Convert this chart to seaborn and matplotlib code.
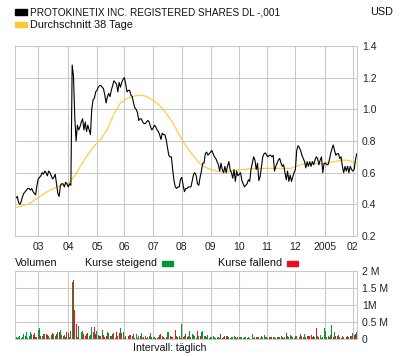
import matplotlib
matplotlib.use("Agg")
import matplotlib.pyplot as plt
from matplotlib.patches import Rectangle
import pandas as pd
import seaborn as sns

# daily closing prices (USD), Feb 2004 - Feb 2005
price = [
    0.44, 0.45, 0.41, 0.40, 0.42, 0.45, 0.47, 0.48, 0.49, 0.50,
    0.50, 0.49, 0.50, 0.48, 0.47, 0.46, 0.52, 0.56, 0.57, 0.58,
    0.60, 0.59, 0.61, 0.60, 0.58, 0.61, 0.60, 0.58, 0.56, 0.57,
    0.59, 0.53, 0.47, 0.45, 0.52, 0.53, 0.53, 0.51, 0.54, 0.53,
    0.51, 0.53, 0.52, 1.28, 1.21, 0.95, 0.80, 0.90, 0.87, 0.89,
    0.92, 0.94, 0.87, 0.92, 0.86, 0.90, 0.87, 0.84, 1.00, 1.06,
    1.07, 1.11, 1.12, 1.14, 1.15, 1.15, 1.14, 1.13, 1.09, 1.04,
    1.08, 1.10, 1.08, 1.12, 1.15, 1.18, 1.17, 1.16, 1.11, 1.17,
    1.14, 1.17, 1.19, 1.20, 1.16, 1.11, 1.12, 1.12, 1.09, 1.08,
    1.04, 1.01, 1.00, 0.98, 0.93, 0.94, 0.94, 0.92, 0.91, 0.91,
    0.92, 0.93, 0.92, 0.89, 0.87, 0.88, 0.90, 0.89, 0.87, 0.86,
    0.84, 0.81, 0.85, 0.84, 0.84, 0.81, 0.76, 0.71, 0.70, 0.70,
    0.62, 0.55, 0.51, 0.50, 0.51, 0.51, 0.56, 0.57, 0.52, 0.48,
    0.50, 0.50, 0.51, 0.51, 0.51, 0.55, 0.59, 0.60, 0.58, 0.53,
    0.52, 0.57, 0.61, 0.66, 0.66, 0.72, 0.73, 0.71, 0.72, 0.73,
    0.74, 0.72, 0.70, 0.69, 0.67, 0.65, 0.61, 0.66, 0.62, 0.60,
    0.64, 0.60, 0.64, 0.67, 0.62, 0.60, 0.565, 0.62, 0.545, 0.61,
    0.58, 0.59, 0.60, 0.55, 0.53, 0.51, 0.52, 0.53, 0.555, 0.545,
    0.62, 0.66, 0.70, 0.68, 0.62, 0.66, 0.55, 0.575, 0.64, 0.70,
    0.72, 0.725, 0.71, 0.70, 0.71, 0.71, 0.70, 0.71, 0.61, 0.64,
    0.66, 0.68, 0.69, 0.66, 0.64, 0.65, 0.60, 0.555, 0.61, 0.545,
    0.585, 0.545, 0.575, 0.60, 0.62, 0.74, 0.77, 0.76, 0.74, 0.71,
    0.69, 0.67, 0.63, 0.67, 0.64, 0.67, 0.64, 0.67, 0.65, 0.68,
    0.70, 0.69, 0.65, 0.68, 0.70, 0.60, 0.66, 0.66, 0.65, 0.65,
    0.68, 0.72, 0.75, 0.775, 0.74, 0.71, 0.72, 0.72, 0.69, 0.70,
    0.64, 0.60, 0.64, 0.61, 0.64, 0.60, 0.64, 0.62, 0.61, 0.62,
    0.68, 0.72,
]

# 38 day average, read every 5th trading day
avg_day = list(range(0, 261, 5)) + [261]
avg_price = [
    0.38, 0.39, 0.405, 0.43, 0.46, 0.485, 0.505, 0.52, 0.53, 0.58,
    0.65, 0.715, 0.77, 0.81, 0.875, 0.97, 1.04, 1.068, 1.083, 1.09,
    1.082, 1.057, 1.024, 0.975, 0.915, 0.84, 0.77, 0.715, 0.665, 0.633,
    0.618, 0.607, 0.603, 0.61, 0.618, 0.62, 0.625, 0.627, 0.627, 0.627,
    0.627, 0.627, 0.627, 0.64, 0.655, 0.658, 0.657, 0.656, 0.664, 0.672,
    0.68, 0.678, 0.662, 0.658,
]

# daily volume in millions of shares
volume = [
    0.06, 0.04, 0.05, 0.09, 0.03, 0.06, 0.15, 0.09, 0.21, 0.03,
    0.09, 0.20, 0.16, 0.13, 0.17, 0.07, 0.06, 0.26, 0.32, 0.10,
    0.09, 0.15, 0.15, 0.15, 0.11, 0.08, 0.03, 0.12, 0.17, 0.15,
    0.08, 0.16, 0.20, 0.21, 0.26, 0.12, 0.08, 0.13, 0.06, 0.22,
    0.18, 0.07, 0.24, 1.68, 1.73, 0.85, 0.44, 0.05, 0.38, 0.13,
    0.20, 0.23, 0.16, 0.08, 0.15, 0.17, 0.08, 0.11, 0.34, 0.22,
    0.34, 0.15, 0.25, 0.13, 0.08, 0.10, 0.27, 0.11, 0.07, 0.08,
    0.20, 0.19, 0.10, 0.08, 0.15, 0.18, 0.03, 0.22, 0.08, 0.17,
    0.32, 0.18, 0.20, 0.03, 0.08, 0.08, 0.08, 0.13, 0.12, 0.08,
    0.15, 0.03, 0.15, 0.04, 0.08, 0.10, 0.18, 0.04, 0.06, 0.10,
    0.03, 0.07, 0.08, 0.18, 0.06, 0.06, 0.06, 0.03, 0.03, 0.06,
    0.12, 0.15, 0.10, 0.06, 0.03, 0.06, 0.20, 0.20, 0.08, 0.06,
    0.06, 0.18, 0.26, 0.08, 0.06, 0.08, 0.03, 0.44, 0.06, 0.08,
    0.15, 0.06, 0.08, 0.23, 0.06, 0.15, 0.11, 0.08, 0.03, 0.23,
    0.08, 0.08, 0.21, 0.23, 0.08, 0.10, 0.06, 0.13, 0.03, 0.06,
    0.06, 0.10, 0.06, 0.02, 0.06, 0.06, 0.03, 0.15, 0.03, 0.06,
    0.08, 0.08, 0.10, 0.06, 0.03, 0.06, 0.06, 0.08, 0.06, 0.03,
    0.06, 0.06, 0.06, 0.06, 0.03, 0.06, 0.06, 0.03, 0.05, 0.03,
    0.05, 0.15, 0.03, 0.06, 0.06, 0.05, 0.05, 0.03, 0.10, 0.06,
    0.11, 0.05, 0.05, 0.03, 0.05, 0.05, 0.05, 0.05, 0.05, 0.03,
    0.06, 0.06, 0.06, 0.10, 0.06, 0.03, 0.06, 0.18, 0.10, 0.06,
    0.13, 0.10, 0.05, 0.04, 0.10, 0.08, 0.47, 0.06, 0.15, 0.08,
    0.06, 0.15, 0.06, 0.08, 0.08, 0.10, 0.12, 0.06, 0.10, 0.06,
    0.32, 0.08, 0.06, 0.13, 0.04, 0.06, 0.32, 0.25, 0.06, 0.08,
    0.06, 0.13, 0.40, 0.06, 0.20, 0.08, 0.08, 0.13, 0.06, 0.04,
    0.08, 0.06, 0.27, 0.06, 0.08, 0.06, 0.08, 0.10, 0.18, 0.12,
    0.15, 0.20,
]

# G = Kurse steigend, R = Kurse fallend
direction = list(
    "GGGGRGGGGR" "GGGRRGRGGR" "GRGRRGGRRG" "GRGRGGRGRR" "RGGGRRRGGR"
    "GGRRRRGGGG" "RRGGRRGRRR" "GGRGRGGRRR" "GRGGRGRGRG" "RRGGGRGGRR"
    "GGGGRGGRGG" "RRGRRRGGRR" "RGRGRGGGRG" "RRGGRGGGRR" "GRGGRGGGRG"
    "GGGRGGGRRG" "RGRGGGGGRG" "GRGGGGGRGG" "RGGRRGRGGR" "GGGGRRRGGG"
    "RGRGGRGRGR" "GGGRRGGGGR" "RGGRRRRGRG" "RGRGRGGGRG" "RGGRGRRGRR"
    "GRGRRGRGGR" "RG"
)

month_labels = ["03", "04", "05", "06", "07", "08", "09", "10", "11", "12", "2005", "02"]
price_ticks = [0.2, 0.4, 0.6, 0.8, 1.0, 1.2, 1.4]
vol_ticks = [0, 0.5, 1, 1.5, 2]
vol_labels = ["0", "0.5 M", "1M", "1.5 M", "2 M"]

dates = pd.bdate_range("2004-02-05", periods=len(price))
day = list(range(len(price)))
month_pos = [i for i in range(1, len(dates)) if dates[i].month != dates[i - 1].month]

sns.set_style("white")
plt.rcParams["font.family"] = ["Liberation Sans", "DejaVu Sans"]
plt.rcParams["font.size"] = 7.5

GRID = "#c8c8c8"
GREEN = "#009933"
RED = "#e8141b"
YELLOW = "#ffc832"
TXT = "#111111"

fig = plt.figure(figsize=(4.0, 3.57), dpi=100)
W, H = 400.0, 357.0
ax1 = fig.add_axes([15 / W, 1 - 236 / H, 342 / W, 190 / H])
ax2 = fig.add_axes([15 / W, 1 - 339 / H, 342 / W, 67.7 / H])

# price chart
sns.lineplot(x=avg_day, y=avg_price, color=YELLOW, linewidth=0.8, ax=ax1)
sns.lineplot(x=day, y=price, color="black", linewidth=0.8, ax=ax1)

# volume chart
vol_df = pd.DataFrame({"day": day, "vol": volume, "dir": direction})
sns.barplot(data=vol_df, x="day", y="vol", hue="dir", palette={"G": GREEN, "R": RED},
            native_scale=True, width=0.75, saturation=1, linewidth=0,
            legend=False, ax=ax2)

for ax in (ax1, ax2):
    ax.set_xlim(-0.8, 261.2)
    ax.set_xticks(month_pos)
    ax.set_axisbelow(True)
    ax.grid(True, color=GRID, linewidth=0.75)
    ax.yaxis.tick_right()
    ax.tick_params(length=0, colors="#222222", labelsize=7.5)
    ax.tick_params(axis="y", pad=3.6)
    for s in ax.spines.values():
        s.set_color(GRID)
        s.set_linewidth(0.75)
    ax.set_xlabel("")
    ax.set_ylabel("")

ax1.set_ylim(0.2, 1.4)
ax1.set_yticks(price_ticks)
ax1.set_yticklabels([f"{v:.1f}" for v in price_ticks])
ax1.set_xticklabels(month_labels)
ax1.tick_params(axis="x", pad=4.5)

ax2.set_ylim(0, 2)
ax2.set_yticks(vol_ticks)
ax2.set_yticklabels(vol_labels)
ax2.set_xticklabels([])

# header legend
fig.patches.append(Rectangle((15 / W, 1 - 15 / H), 12 / W, 5.5 / H, color="black",
                             transform=fig.transFigure, figure=fig))
fig.patches.append(Rectangle((15 / W, 1 - 27 / H), 12 / W, 5 / H, color=YELLOW,
                             transform=fig.transFigure, figure=fig))
fig.text(29.5 / W, 1 - 15.3 / H, "PROTOKINETIX INC. REGISTERED SHARES DL -,001",
         fontsize=7.2, va="baseline", color=TXT)
fig.text(29.5 / W, 1 - 28 / H, "Durchschnitt 38 Tage", fontsize=7.8, va="baseline",
         color=TXT)
fig.text(393 / W, 1 - 15.3 / H, "USD", fontsize=7.8, va="baseline", ha="right",
         color=TXT)

# volume header
fig.text(15 / W, 1 - 266 / H, "Volumen", fontsize=7.8, va="baseline", color=TXT)
fig.text(85 / W, 1 - 266 / H, "Kurse steigend", fontsize=7.7, va="baseline", color=TXT)
fig.patches.append(Rectangle((162 / W, 1 - 265.5 / H), 11 / W, 5 / H, color=GREEN,
                             transform=fig.transFigure, figure=fig))
fig.text(218 / W, 1 - 266 / H, "Kurse fallend", fontsize=7.8, va="baseline", color=TXT)
fig.patches.append(Rectangle((287 / W, 1 - 265.5 / H), 11 / W, 5 / H, color=RED,
                             transform=fig.transFigure, figure=fig))
fig.text(133 / W, 1 - 351 / H, "Intervall: täglich", fontsize=7.6, va="baseline",
         color=TXT)

fig.savefig("out.png", dpi=100, facecolor="white")
